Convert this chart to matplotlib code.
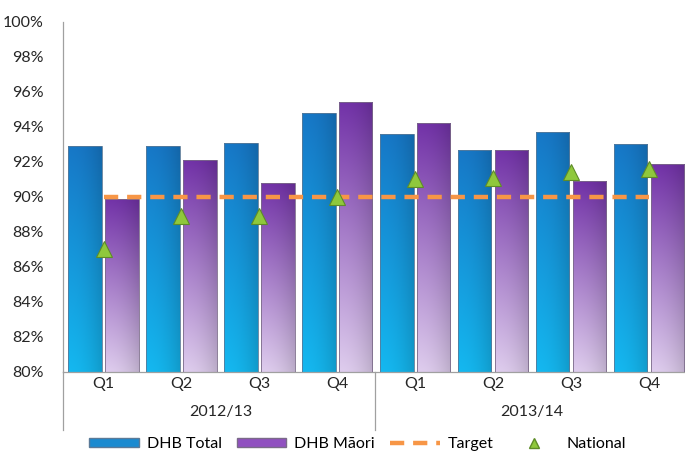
import matplotlib
matplotlib.use("Agg")
import matplotlib.pyplot as plt
import matplotlib.transforms as mtransforms
from matplotlib.patches import Patch
from matplotlib.lines import Line2D
import numpy as np

plt.rcParams['font.family'] = ['Lato', 'DejaVu Sans']

# data
quarters = ['Q1', 'Q2', 'Q3', 'Q4', 'Q1', 'Q2', 'Q3', 'Q4']
years = ['2012/13', '2013/14']
dhb_total = [92.9, 92.9, 93.1, 94.8, 93.6, 92.7, 93.7, 93.0]
dhb_maori = [89.9, 92.1, 90.8, 95.4, 94.2, 92.7, 90.9, 91.85]
target = [90, 90, 90, 90, 90, 90, 90, 90]
national = [87.0, 88.9, 88.9, 90.0, 91.0, 91.1, 91.4, 91.6]


def gradient_bar(ax, bar, top_rgb, bottom_rgb):
    x0, w = bar.get_x(), bar.get_width()
    y0 = bar.get_y()
    y1 = y0 + bar.get_height()
    ny, nx = 64, 32
    t = np.linspace(0, 1, ny)[:, None, None]      # 0 top -> 1 bottom
    top = np.array(top_rgb)[None, None, :]
    bot = np.array(bottom_rgb)[None, None, :]
    col = top * (1 - t) + bot * t
    col = np.repeat(col, nx, axis=1)
    # slight horizontal shading: darker at the right edge
    s = np.linspace(0, 1, nx)
    shade = 1.0 - 0.15 * s**2
    col = col * shade[None, :, None]
    img = ax.imshow(np.clip(col, 0, 1), extent=(x0, x0 + w, y0, y1),
                    aspect='auto', zorder=2, origin='upper', interpolation='bilinear')
    img.set_clip_path(bar)


fig = plt.figure(figsize=(6.85, 4.54), dpi=100)
ax = fig.add_axes([0.092, 0.181, 0.910, 0.771])

x = np.arange(len(quarters))
w = 0.43
off_b, off_p, off_c = -0.216, 0.256, 0.02

bars_b = ax.bar(x + off_b, np.array(dhb_total) - 80, bottom=80, width=w,
                color='none', edgecolor='#5a7a98', linewidth=0.6, zorder=3)
bars_p = ax.bar(x + off_p, np.array(dhb_maori) - 80, bottom=80, width=w,
                color='none', edgecolor='#7a6a88', linewidth=0.6, zorder=3)

for b in bars_b:
    gradient_bar(ax, b, (0.09, 0.47, 0.78), (0.08, 0.72, 0.94))
for b in bars_p:
    gradient_bar(ax, b, (0.45, 0.20, 0.66), (0.87, 0.80, 0.93))

ax.plot(x + off_c, target, color='#f79646', linewidth=3.2, dashes=(3.2, 2.0),
        zorder=4)
ax.plot(x + off_c, national, linestyle='none', marker='^', markersize=11.5,
        markerfacecolor='#8fc83c', markeredgecolor='#5e8c28', markeredgewidth=0.8,
        zorder=5)

ax.set_xlim(-0.5, 7.5)
ax.set_ylim(80, 100)
ax.set_yticks(np.arange(80, 101, 2))
ax.set_yticklabels([f'{v}%' for v in range(80, 101, 2)])
ax.set_xticks(x + off_c)
ax.set_xticklabels(quarters)
ax.tick_params(axis='both', length=0, labelsize=11.5, colors='#262626')
ax.tick_params(axis='x', pad=4)
ax.tick_params(axis='y', pad=14)

for side in ['top', 'right']:
    ax.spines[side].set_visible(False)
for side in ['left', 'bottom']:
    ax.spines[side].set_color('#a0a0a0')
    ax.spines[side].set_linewidth(0.9)

# second level of the category axis
trans = mtransforms.blended_transform_factory(ax.transData, ax.transAxes)
for xv in [-0.5, 3.5]:
    ax.plot([xv, xv], [0, -0.166], transform=trans, color='#a0a0a0',
            linewidth=0.9, clip_on=False)
for i, yr in enumerate(years):
    ax.text(i * 4 + 1.5 + off_c, -0.115, yr, transform=trans, ha='center',
            va='center', fontsize=11.5, color='#262626')

handles = [
    Patch(facecolor='#1a8ad0', edgecolor='#5a7a98', label='DHB Total'),
    Patch(facecolor='#9050c0', edgecolor='#7a6a88', label='DHB Māori'),
    Line2D([], [], color='#f79646', linewidth=3.2, dashes=(3.2, 2.0), label='Target'),
    Line2D([], [], linestyle='none', marker='^', markersize=7,
           markerfacecolor='#8fc83c', markeredgecolor='#5e8c28', label='National'),
]
fig.legend(handles=handles, loc='center', bbox_to_anchor=(0.522, 0.022), ncol=4,
           frameon=False, fontsize=11.5, handlelength=3.1, handleheight=0.45,
           columnspacing=0.95, handletextpad=0.5, borderpad=0.2)

fig.savefig('out.png', dpi=100)
